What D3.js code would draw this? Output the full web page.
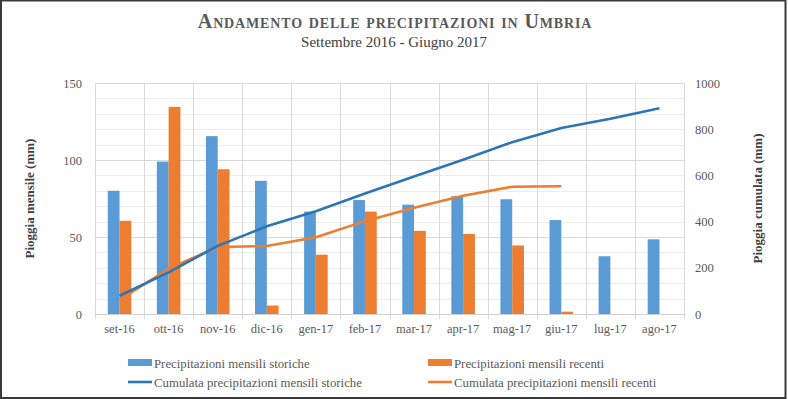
<!DOCTYPE html>
<html>
<head>
<meta charset="utf-8">
<script src="https://cdn.jsdelivr.net/npm/d3@7"></script>
<style>
  body { margin: 0; background: #fff; }
  svg { display: block; }
  svg text { font-family: "Liberation Serif", "Times New Roman", serif; }
</style>
</head>
<body>
<div id="graph"></div>
<script>
// dati
var mesi = ["set-16","ott-16","nov-16","dic-16","gen-17","feb-17","mar-17","apr-17","mag-17","giu-17","lug-17","ago-17"];
var storiche = [80, 99, 115.5, 86.5, 66.5, 74, 71, 76.5, 74.5, 61, 37.5, 48.5];
var recenti = [60.5, 134.5, 94, 5.5, 38.5, 66.5, 54, 52, 44.5, 1.5];
var cumStoriche = [79, 180, 295, 380, 445, 522, 595, 668, 744, 805, 845, 891];
var cumRecenti = [61, 196, 290, 294, 332, 402, 460, 512, 551, 553];
var tickSx = [0, 50, 100, 150];
var tickDx = [0, 200, 400, 600, 800, 1000];

var W = 788, H = 399;
var mLeft = 95, mRight = 684, mTop = 83, mBottom = 314;
var grigio = "#595959";
var bluBar = "#5B9BD5", aranBar = "#ED7D31", bluLinea = "#2E75B6", aranLinea = "#ED7D31";

var svg = d3.select("#graph").append("svg")
    .attr("width", W)
    .attr("height", H)
    .attr("font-family", "Liberation Serif");

// cornice esterna
svg.append("rect")
    .attr("x", 1).attr("y", 0.5)
    .attr("width", 784.5).attr("height", 397.5)
    .attr("fill", "none")
    .attr("stroke", "#3a3a3a")
    .attr("stroke-width", 2);

var x = d3.scaleBand().domain(mesi).range([mLeft, mRight]).paddingInner(0).paddingOuter(0);
var xs = d3.scaleBand().domain(["s","r"]).range([0, x.bandwidth() * 0.48]);
var off = (x.bandwidth() - x.bandwidth() * 0.48) / 2;
var ySx = d3.scaleLinear().domain([0, 150]).range([mBottom, mTop]);
var yDx = d3.scaleLinear().domain([0, 1000]).range([mBottom, mTop]);

// griglia orizzontale (minore ogni 10 mm)
svg.append("g").selectAll("line")
    .data(d3.range(0, 151, 10))
    .enter().append("line")
    .attr("x1", mLeft).attr("x2", mRight)
    .attr("y1", function(d){ return Math.round(ySx(d)) + 0.5; })
    .attr("y2", function(d){ return Math.round(ySx(d)) + 0.5; })
    .attr("stroke", function(d){ return d % 50 == 0 ? "#d9d9d9" : "#ececec"; })
    .attr("stroke-width", 1);

// griglia verticale + tacche asse categorie
var bordi = d3.range(0, mesi.length + 1).map(function(i){ return mLeft + i * x.bandwidth(); });
svg.append("g").selectAll("line")
    .data(bordi)
    .enter().append("line")
    .attr("x1", function(d){ return Math.round(d) + 0.5; })
    .attr("x2", function(d){ return Math.round(d) + 0.5; })
    .attr("y1", mTop).attr("y2", mBottom + 5)
    .attr("stroke", "#d9d9d9")
    .attr("stroke-width", 1);

// asse x
svg.append("line")
    .attr("x1", mLeft).attr("x2", mRight)
    .attr("y1", mBottom + 0.5).attr("y2", mBottom + 0.5)
    .attr("stroke", "#d0d0d0");

// barre
var gBar = svg.append("g");
gBar.selectAll("rect.s")
    .data(storiche)
    .enter().append("rect")
    .attr("class", "s")
    .attr("x", function(d, i){ return x(mesi[i]) + off + xs("s"); })
    .attr("y", function(d){ return ySx(d); })
    .attr("width", xs.bandwidth())
    .attr("height", function(d){ return mBottom - ySx(d); })
    .attr("fill", bluBar);
gBar.selectAll("rect.r")
    .data(recenti)
    .enter().append("rect")
    .attr("class", "r")
    .attr("x", function(d, i){ return x(mesi[i]) + off + xs("r"); })
    .attr("y", function(d){ return ySx(d); })
    .attr("width", xs.bandwidth())
    .attr("height", function(d){ return mBottom - ySx(d); })
    .attr("fill", aranBar);

// linee cumulate
var linea = d3.line()
    .x(function(d, i){ return x(mesi[i]) + x.bandwidth() / 2; })
    .y(function(d){ return yDx(d); });
svg.append("path")
    .attr("d", linea(cumRecenti))
    .attr("fill", "none")
    .attr("stroke", aranLinea)
    .attr("stroke-width", 2.6)
    .attr("stroke-linejoin", "round");
svg.append("path")
    .attr("d", linea(cumStoriche))
    .attr("fill", "none")
    .attr("stroke", bluLinea)
    .attr("stroke-width", 2.6)
    .attr("stroke-linejoin", "round");

// assi
var axSx = svg.append("g")
    .attr("transform", "translate(" + (mLeft - 13) + ",0)")
    .call(d3.axisLeft(ySx).tickValues(tickSx).tickSize(0).tickPadding(0));
var axDx = svg.append("g")
    .attr("transform", "translate(" + (mRight + 11) + ",0)")
    .call(d3.axisRight(yDx).tickValues(tickDx).tickSize(0).tickPadding(0).tickFormat(d3.format("d")));
var axX = svg.append("g")
    .attr("transform", "translate(0," + mBottom + ")")
    .call(d3.axisBottom(x).tickSize(0).tickPadding(10));
[axSx, axDx, axX].forEach(function(a){
    a.attr("font-family", "Liberation Serif").attr("font-size", 12.5);
    a.select(".domain").remove();
    a.selectAll("text").attr("fill", grigio);
});

// titoli assi
svg.append("text")
    .attr("transform", "translate(34," + ((mTop + mBottom) / 2) + ") rotate(-90)")
    .attr("text-anchor", "middle")
    .attr("fill", "#404040")
    .attr("font-size", 13)
    .attr("font-weight", "bold")
    .text("Pioggia mensile (mm)");
svg.append("text")
    .attr("transform", "translate(762," + ((mTop + mBottom) / 2) + ") rotate(-90)")
    .attr("text-anchor", "middle")
    .attr("fill", "#404040")
    .attr("font-size", 13)
    .attr("font-weight", "bold")
    .text("Pioggia cumulata (mm)");

// titolo
svg.append("text")
    .attr("x", 395).attr("y", 28)
    .attr("text-anchor", "middle")
    .attr("fill", grigio)
    .attr("font-size", 20)
    .attr("font-weight", "bold")
    .attr("letter-spacing", 0.85)
    .style("font-variant", "small-caps")
    .text("Andamento delle precipitazioni in Umbria");
svg.append("text")
    .attr("x", 394).attr("y", 47)
    .attr("text-anchor", "middle")
    .attr("fill", "#404040")
    .attr("font-size", 15)
    .text("Settembre 2016 - Giugno 2017");

// legenda
var leg = [
    {nome: "Precipitazioni mensili storiche", col: bluBar, tipo: "bar", x: 128, y: 363},
    {nome: "Precipitazioni mensili recenti", col: aranBar, tipo: "bar", x: 428, y: 363},
    {nome: "Cumulata precipitazioni mensili storiche", col: bluLinea, tipo: "line", x: 128, y: 382},
    {nome: "Cumulata precipitazioni mensili recenti", col: aranLinea, tipo: "line", x: 428, y: 382}
];
var gl = svg.append("g").selectAll("g").data(leg).enter().append("g");
gl.filter(function(d){ return d.tipo == "bar"; }).append("rect")
    .attr("x", function(d){ return d.x; })
    .attr("y", function(d){ return d.y - 4; })
    .attr("width", 24).attr("height", 7)
    .attr("fill", function(d){ return d.col; });
gl.filter(function(d){ return d.tipo == "line"; }).append("line")
    .attr("x1", function(d){ return d.x; })
    .attr("x2", function(d){ return d.x + 24; })
    .attr("y1", function(d){ return d.y; })
    .attr("y2", function(d){ return d.y; })
    .attr("stroke", function(d){ return d.col; })
    .attr("stroke-width", 2.6);
gl.append("text")
    .attr("x", function(d){ return d.x + 26; })
    .attr("y", function(d){ return d.y + 4.5; })
    .attr("fill", grigio)
    .attr("font-size", 12.8)
    .text(function(d){ return d.nome; });
</script>
</body>
</html>
